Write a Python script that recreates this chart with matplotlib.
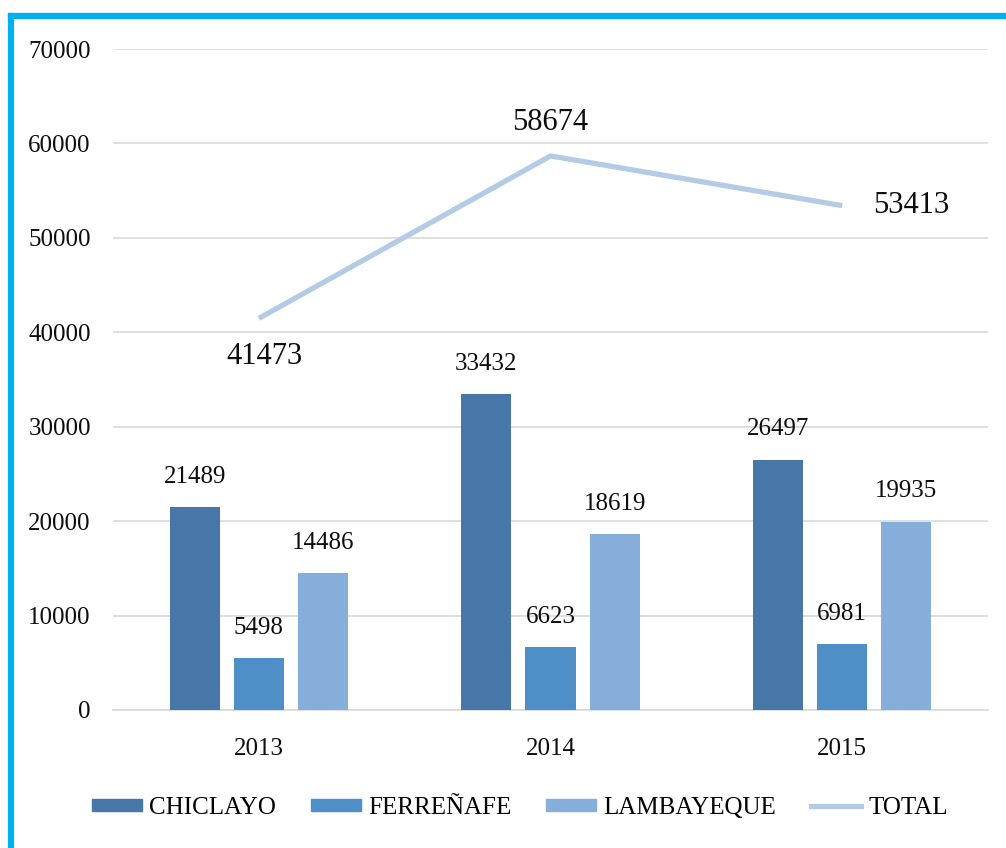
import matplotlib

matplotlib.use("Agg")
import matplotlib.pyplot as plt
import numpy as np
from matplotlib.lines import Line2D
from matplotlib.patches import Patch

# data
years = ["2013", "2014", "2015"]
chiclayo = [21489, 33432, 26497]
ferrenafe = [5498, 6623, 6981]
lambayeque = [14486, 18619, 19935]
total = [41473, 58674, 53413]
y_ticks = [0, 10000, 20000, 30000, 40000, 50000, 60000, 70000]

COLORS = {
    "CHICLAYO": "#4677A8",
    "FERREÑAFE": "#4F8FC7",
    "LAMBAYEQUE": "#85AEDB",
    "TOTAL": "#B4CBE6",
}
TXT = "#0D0D0D"

plt.rcParams.update(
    {
        "font.family": ["Liberation Serif", "DejaVu Serif"],
        "font.size": 18,
    }
)

W, H = 1006, 848
fig = plt.figure(figsize=(W / 100, H / 100), dpi=100)
ax = fig.add_axes([113 / W, 1 - 710 / H, (988 - 113) / W, (710 - 49) / H])

x = np.arange(len(years))
bw = 0.172
off = 0.22
series = [("CHICLAYO", chiclayo), ("FERREÑAFE", ferrenafe), ("LAMBAYEQUE", lambayeque)]
for i, (name, vals) in enumerate(series):
    pos = x + (i - 1) * off
    ax.bar(pos, vals, width=bw, color=COLORS[name], zorder=3)
    for px, v in zip(pos, vals):
        ax.annotate(f"{v}", (px, v), xytext=(0, 14), textcoords="offset points",
                    ha="center", va="bottom", fontsize=18, color=TXT)

ax.plot(x, total, color=COLORS["TOTAL"], linewidth=3.8, zorder=4, solid_capstyle="butt")
# labels of the TOTAL line: below, above, right
total_offsets = [((4, -17), "center", "top"), ((0, 14), "center", "bottom"), ((22, 0), "left", "center")]
for xi, v, (xy, ha, va) in zip(x, total, total_offsets):
    ax.annotate(f"{v}", (xi, v), xytext=xy, textcoords="offset points",
                ha=ha, va=va, fontsize=22, color=TXT)

ax.set_xlim(-0.5, 2.5)
ax.set_ylim(0, 70000)
ax.set_yticks(y_ticks)
ax.set_xticks(x)
ax.set_xticklabels(years)
ax.tick_params(length=0, labelsize=18, colors=TXT)
ax.tick_params(axis="y", pad=16)
ax.tick_params(axis="x", pad=20)
ax.grid(axis="y", color="#D9D9D9", linewidth=1.2, zorder=0)
for s in ["top", "right", "left"]:
    ax.spines[s].set_visible(False)
ax.spines["bottom"].set_color("#D9D9D9")
ax.spines["bottom"].set_linewidth(1.2)

handles = [Patch(color=COLORS[n]) for n, _ in series]
handles.append(Line2D([0], [0], color=COLORS["TOTAL"], linewidth=3.8))
labels = [n for n, _ in series] + ["TOTAL"]
fig.legend(handles, labels, loc="center", bbox_to_anchor=(520 / W, 1 - 808 / H),
           ncol=4, frameon=False, fontsize=18, handlelength=2.0, handleheight=0.4,
           handletextpad=0.28, columnspacing=1.4)

# cyan frame on the left and top edges
bx, by = 11 / W, 1 - 15.5 / H
fig.add_artist(Line2D([bx, bx], [0, by], transform=fig.transFigure, color="#00B0F0",
                      linewidth=4.5, solid_capstyle="projecting"))
fig.add_artist(Line2D([bx, 1], [by, by], transform=fig.transFigure, color="#00B0F0",
                      linewidth=4.5, solid_capstyle="projecting"))

fig.savefig("out.png", dpi=100)
